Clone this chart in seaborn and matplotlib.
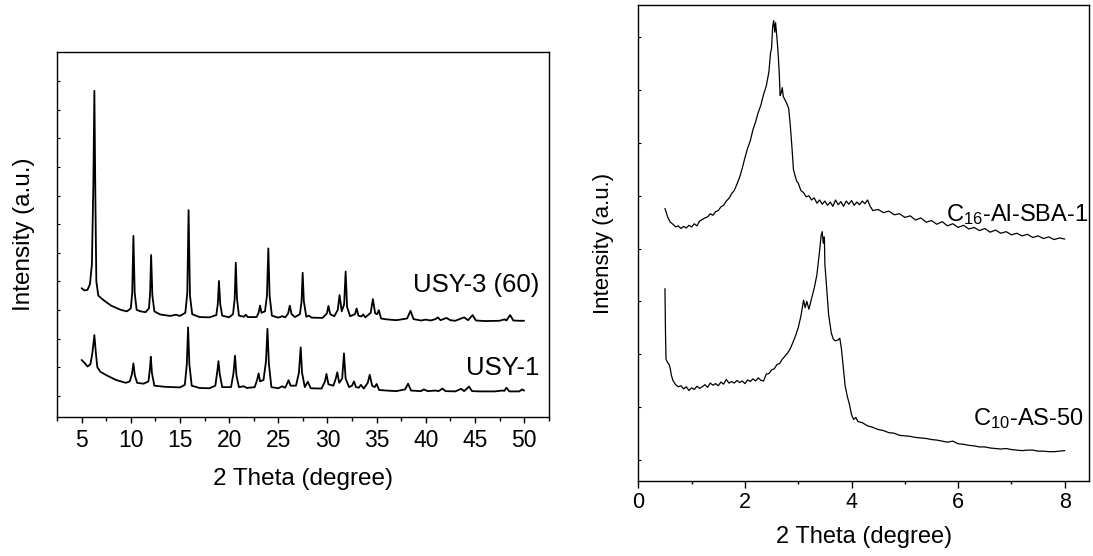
import numpy as np
import matplotlib
matplotlib.use("Agg")
import matplotlib.pyplot as plt
import seaborn as sns
from matplotlib.ticker import MultipleLocator

# ---------------- data ----------------
# Left panel: wide-angle XRD, y in tick units
usy3_x = [5.0, 5.3, 5.6, 5.85, 6.05, 6.2, 6.3, 6.4, 6.5, 6.7, 7.2, 8.0, 9.0, 9.6, 10.0, 10.15, 10.27, 10.4, 10.6,
          11.0, 11.5, 11.85, 11.97, 12.07, 12.2, 12.4, 13.0, 14.0, 14.6, 15.0, 15.55, 15.75, 15.88, 16.02, 16.25,
          17.0, 18.0, 18.7, 18.85, 18.97, 19.1, 19.3, 20.0, 20.4, 20.57, 20.68, 20.8, 21.0, 21.5, 21.7, 21.9,
          22.8, 23.0, 23.15, 23.3, 23.65, 23.85, 23.99, 24.12, 24.35, 25.0, 25.4, 25.7, 26.0, 26.17, 26.35, 26.7,
          27.2, 27.37, 27.48, 27.6, 27.85, 28.1, 28.4, 29.5, 29.95, 30.1, 30.28, 30.7, 31.05, 31.23, 31.45, 31.7,
          31.85, 32.0, 32.3, 32.8, 32.97, 33.15, 33.45, 33.63, 33.85, 34.4, 34.62, 34.85, 35.05, 35.23, 35.45,
          36.0, 37.0, 38.1, 38.45, 38.75, 39.5, 40.0, 40.5, 41.0, 41.23, 41.5, 42.1, 42.5, 43.0, 43.9, 44.3,
          44.76, 45.1, 46.0, 47.5, 48.0, 48.2, 48.58, 48.9, 49.5, 50.0]
usy3_y = [3.76, 3.68, 3.70, 3.90, 4.60, 7.50, 10.66, 7.00, 4.00, 3.50, 3.35, 3.15, 3.00, 2.95, 3.05, 3.60, 5.59, 3.60, 3.00,
          2.95, 2.92, 3.05, 3.60, 4.92, 3.50, 2.95, 2.84, 2.79, 2.83, 2.79, 2.90, 3.60, 6.49, 3.50, 2.85,
          2.75, 2.74, 2.82, 3.20, 4.01, 3.20, 2.80, 2.74, 2.85, 3.40, 4.65, 3.40, 2.80, 2.76, 2.83, 2.75,
          2.75, 2.90, 3.15, 2.90, 2.95, 3.50, 5.15, 3.50, 2.80, 2.73, 2.78, 2.74, 2.87, 3.15, 2.85, 2.75,
          2.85, 3.30, 4.30, 3.30, 2.76, 2.80, 2.73, 2.72, 2.88, 3.14, 2.85, 2.78, 3.00, 3.52, 2.95, 3.20,
          4.34, 3.10, 2.78, 2.85, 3.05, 2.80, 2.77, 2.84, 2.74, 2.90, 3.38, 2.88, 2.85, 2.99, 2.70,
          2.67, 2.64, 2.70, 2.97, 2.68, 2.63, 2.66, 2.63, 2.68, 2.74, 2.64, 2.72, 2.64, 2.62, 2.74, 2.64,
          2.82, 2.63, 2.61, 2.62, 2.67, 2.63, 2.82, 2.63, 2.62, 2.62]

usy1_x = [5.0, 5.3, 5.6, 5.9, 6.1, 6.3, 6.45, 6.6, 6.9, 7.5, 8.5, 9.5, 9.9, 10.12, 10.27, 10.42, 10.65, 11.3, 11.8,
          11.95, 12.04, 12.15, 12.4, 13.5, 15.0, 15.5, 15.7, 15.83, 15.96, 16.2, 17.0, 18.0, 18.6, 18.8, 18.92,
          19.05, 19.3, 20.2, 20.45, 20.6, 20.75, 21.0, 21.5, 21.8, 22.6, 22.85, 23.0, 23.15, 23.5, 23.75, 23.9,
          24.05, 24.3, 25.0, 25.4, 25.7, 25.9, 26.05, 26.25, 26.8, 27.1, 27.28, 27.42, 27.7, 28.0, 28.3, 29.4,
          29.75, 29.9, 30.1, 30.6, 30.85, 31.0, 31.2, 31.5, 31.68, 31.85, 32.2, 32.5, 32.7, 32.9, 33.2, 33.4,
          33.7, 34.1, 34.3, 34.55, 34.8, 35.0, 35.25, 36.0, 37.0, 37.9, 38.2, 38.5, 39.5, 39.8, 40.2, 41.0,
          41.3, 41.7, 42.0, 43.0, 43.6, 43.9, 44.4, 44.7, 45.5, 47.0, 47.8, 48.0, 48.2, 48.5, 49.5, 49.8, 50.0]
usy1_y = [1.25, 1.15, 1.02, 1.10, 1.50, 2.12, 1.50, 1.00, 0.84, 0.72, 0.55, 0.45, 0.50, 0.75, 1.13, 0.70, 0.45, 0.42, 0.50,
          0.95, 1.36, 0.80, 0.35, 0.31, 0.29, 0.38, 1.10, 2.39, 1.10, 0.35, 0.27, 0.26, 0.35, 0.85, 1.21,
          0.75, 0.30, 0.30, 0.80, 1.40, 0.70, 0.30, 0.33, 0.27, 0.30, 0.55, 0.78, 0.50, 0.55, 1.20, 2.34,
          1.10, 0.30, 0.26, 0.33, 0.28, 0.42, 0.54, 0.35, 0.35, 0.80, 1.69, 0.80, 0.30, 0.49, 0.26, 0.25,
          0.50, 0.76, 0.40, 0.35, 0.60, 0.82, 0.45, 0.60, 1.48, 0.60, 0.30, 0.35, 0.50, 0.30, 0.28, 0.38,
          0.25, 0.45, 0.73, 0.35, 0.30, 0.41, 0.20, 0.18, 0.16, 0.22, 0.42, 0.18, 0.16, 0.22, 0.16, 0.18,
          0.16, 0.25, 0.16, 0.15, 0.24, 0.16, 0.32, 0.16, 0.15, 0.15, 0.18, 0.17, 0.28, 0.15, 0.15, 0.22, 0.18]

# Right panel: small-angle XRD, y in tick units
c16_x = [0.50, 0.55, 0.60, 0.65, 0.70, 0.75, 0.80, 0.85, 0.90, 0.95, 1.00, 1.05, 1.10, 1.15, 1.20, 1.25, 1.30, 1.35,
         1.40, 1.45, 1.50, 1.55, 1.60, 1.65, 1.70, 1.75, 1.80, 1.85, 1.90, 1.95, 2.00, 2.05, 2.10, 2.15, 2.20,
         2.25, 2.30, 2.35, 2.40, 2.45, 2.48, 2.50, 2.52, 2.54, 2.56, 2.575, 2.60, 2.62, 2.645, 2.66, 2.68, 2.70,
         2.72, 2.75, 2.78, 2.82, 2.85, 2.88, 2.91, 2.94, 2.97, 3.00, 3.05, 3.10, 3.15, 3.20, 3.25, 3.30, 3.35,
         3.40, 3.45, 3.50, 3.55, 3.60, 3.65, 3.70, 3.75, 3.80, 3.85, 3.90, 3.95, 4.00, 4.05, 4.10, 4.15, 4.20,
         4.25, 4.30, 4.35, 4.40, 4.50, 4.60, 4.70, 4.80, 4.90, 5.00, 5.10, 5.20, 5.30, 5.40, 5.50, 5.60, 5.70,
         5.80, 5.90, 6.00, 6.10, 6.20, 6.30, 6.40, 6.50, 6.60, 6.70, 6.80, 6.90, 7.00, 7.10, 7.20, 7.30, 7.40,
         7.50, 7.60, 7.70, 7.80, 7.90, 8.00]
c16_y = [4.76, 4.60, 4.50, 4.46, 4.41, 4.43, 4.38, 4.42, 4.39, 4.44, 4.41, 4.47, 4.43, 4.52, 4.55, 4.58, 4.60, 4.66,
         4.63, 4.70, 4.72, 4.79, 4.82, 4.90, 4.95, 5.04, 5.10, 5.22, 5.35, 5.52, 5.72, 5.90, 6.04, 6.25, 6.40,
         6.58, 6.72, 6.92, 7.08, 7.35, 7.70, 7.80, 8.20, 8.32, 8.10, 8.28, 8.00, 7.75, 7.30, 6.90, 6.95, 7.05,
         6.88, 6.82, 6.76, 6.66, 6.35, 5.95, 5.50, 5.38, 5.28, 5.24, 5.10, 5.06, 4.98, 5.00, 4.92, 4.96, 4.86,
         4.92, 4.84, 4.90, 4.82, 4.88, 4.80, 4.92, 4.83, 4.89, 4.80, 4.90, 4.84, 4.91, 4.82, 4.88, 4.83, 4.90,
         4.85, 4.92, 4.80, 4.72, 4.74, 4.68, 4.71, 4.64, 4.66, 4.59, 4.62, 4.54, 4.58, 4.50, 4.53, 4.46, 4.51,
         4.43, 4.47, 4.40, 4.44, 4.37, 4.40, 4.34, 4.38, 4.31, 4.35, 4.29, 4.32, 4.26, 4.29, 4.24, 4.27, 4.21,
         4.24, 4.19, 4.22, 4.17, 4.20, 4.18]

c10_x = [0.50, 0.51, 0.52, 0.55, 0.58, 0.60, 0.62, 0.65, 0.70, 0.75, 0.80, 0.85, 0.90, 0.95, 1.00, 1.05, 1.10, 1.15,
         1.20, 1.25, 1.30, 1.35, 1.40, 1.45, 1.50, 1.55, 1.60, 1.65, 1.70, 1.75, 1.80, 1.85, 1.90, 1.95, 2.00,
         2.05, 2.10, 2.15, 2.20, 2.25, 2.30, 2.35, 2.40, 2.45, 2.50, 2.55, 2.60, 2.65, 2.70, 2.75, 2.80, 2.85,
         2.90, 2.95, 3.00, 3.05, 3.10, 3.13, 3.16, 3.20, 3.25, 3.30, 3.35, 3.40, 3.43, 3.45, 3.47, 3.49, 3.50,
         3.53, 3.57, 3.62, 3.66, 3.70, 3.75, 3.78, 3.81, 3.85, 3.88, 3.92, 3.96, 4.00, 4.04, 4.08, 4.12, 4.20,
         4.30, 4.40, 4.50, 4.60, 4.70, 4.80, 4.90, 5.00, 5.10, 5.20, 5.30, 5.40, 5.50, 5.60, 5.70, 5.80, 5.90,
         6.00, 6.10, 6.20, 6.30, 6.40, 6.50, 6.60, 6.70, 6.80, 6.90, 7.00, 7.10, 7.20, 7.30, 7.40, 7.50, 7.60,
         7.70, 7.80, 7.90, 8.00]
c10_y = [3.24, 2.40, 1.90, 1.84, 1.80, 1.72, 1.60, 1.50, 1.42, 1.38, 1.40, 1.34, 1.38, 1.31, 1.36, 1.33, 1.39, 1.35,
         1.38, 1.42, 1.37, 1.45, 1.41, 1.44, 1.40, 1.47, 1.43, 1.52, 1.45, 1.48, 1.45, 1.50, 1.46, 1.49, 1.44,
         1.51, 1.48, 1.53, 1.49, 1.55, 1.50, 1.49, 1.62, 1.63, 1.70, 1.72, 1.80, 1.82, 1.90, 1.96, 2.02, 2.10,
         2.22, 2.35, 2.50, 2.72, 3.02, 2.88, 3.00, 2.85, 3.05, 3.25, 3.50, 3.95, 4.25, 4.32, 4.10, 4.22, 3.70,
         3.30, 2.75, 2.40, 2.28, 2.25, 2.27, 2.30, 2.10, 1.70, 1.40, 1.20, 1.05, 0.85, 0.76, 0.80, 0.72, 0.70,
         0.64, 0.61, 0.57, 0.55, 0.51, 0.50, 0.46, 0.45, 0.44, 0.42, 0.41, 0.40, 0.38, 0.37, 0.35, 0.33, 0.35,
         0.30, 0.29, 0.27, 0.26, 0.24, 0.24, 0.22, 0.21, 0.20, 0.21, 0.19, 0.18, 0.17, 0.18, 0.18, 0.16, 0.16,
         0.15, 0.15, 0.16, 0.17]

left_labels = ["USY-3 (60)", "USY-1"]
right_labels = ["C$_{16}$-Al-SBA-1", "C$_{10}$-AS-50"]
left_xticks = [5, 10, 15, 20, 25, 30, 35, 40, 45, 50]
right_xticks = [0, 2, 4, 6, 8]

# ---------------- style ----------------
sns.set_style("ticks")
plt.rcParams['font.family'] = ['Liberation Sans', 'DejaVu Sans']
plt.rcParams['mathtext.fontset'] = 'custom'
plt.rcParams['mathtext.rm'] = 'Liberation Sans'
plt.rcParams['mathtext.it'] = 'Liberation Sans'
plt.rcParams['mathtext.default'] = 'regular'
for key in ('text.color', 'axes.labelcolor', 'xtick.color', 'ytick.color', 'axes.edgecolor'):
    plt.rcParams[key] = 'black'

fig = plt.figure(figsize=(10.93, 5.56), dpi=100)
axL = fig.add_axes([57 / 1093, 1 - 417 / 556, (548.7 - 57) / 1093, (417 - 51.7) / 556])
axR = fig.add_axes([638.3 / 1093, 1 - 480.7 / 556, (1089.3 - 638.3) / 1093, (480.7 - 5.3) / 556])

# left panel
sns.lineplot(x=usy3_x, y=usy3_y, ax=axL, color='black', lw=1.3, estimator=None, sort=False)
sns.lineplot(x=usy1_x, y=usy1_y, ax=axL, color='black', lw=1.3, estimator=None, sort=False)
axL.set_xlim(2.5, 52.5)
axL.set_ylim(-0.745, 12.03)
axL.set_xticks(left_xticks)
axL.xaxis.set_minor_locator(MultipleLocator(2.5))
axL.set_yticks(range(0, 12))
axL.set_yticklabels([])
axL.tick_params(axis='x', which='major', direction='out', length=4.3, width=1, labelsize=16.5, pad=4)
axL.tick_params(axis='x', which='minor', direction='out', length=2.9, width=1)
axL.tick_params(axis='y', which='major', direction='in', length=2.5, width=0.8)
axL.set_xlabel("2 Theta (degree)", fontsize=17.5, labelpad=12)
axL.set_ylabel("Intensity (a.u.)", fontsize=17.5, labelpad=12)
axL.text(51.6, 3.63, left_labels[0], ha='right', va='baseline', fontsize=18.5)
axL.text(51.6, 0.72, left_labels[1], ha='right', va='baseline', fontsize=18.5)

# right panel
sns.lineplot(x=c16_x, y=c16_y, ax=axR, color='black', lw=0.9, estimator=None, sort=False)
sns.lineplot(x=c10_x, y=c10_y, ax=axR, color='black', lw=0.9, estimator=None, sort=False)
axR.set_xlim(0, 8.46)
axR.set_ylim(-0.40, 8.61)
axR.set_xticks(right_xticks)
axR.xaxis.set_minor_locator(MultipleLocator(1))
axR.set_yticks(range(0, 9))
axR.set_yticklabels([])
axR.tick_params(axis='x', which='major', direction='out', length=4.8, width=1, labelsize=15.5, pad=3)
axR.tick_params(axis='x', which='minor', direction='out', length=2.4, width=1)
axR.tick_params(axis='y', which='major', direction='in', length=2.5, width=0.8)
axR.set_xlabel("2 Theta (degree)", fontsize=17, labelpad=10)
axR.set_ylabel("Intensity (a.u.)", fontsize=16, labelpad=14)
axR.text(8.44, 4.52, right_labels[0], ha='right', va='baseline', fontsize=17)
axR.text(8.36, 0.65, right_labels[1], ha='right', va='baseline', fontsize=17)

for ax in (axL, axR):
    for s in ax.spines.values():
        s.set_visible(True)
        s.set_color('black')
        s.set_linewidth(1.0)

fig.savefig("out.png", dpi=100)
